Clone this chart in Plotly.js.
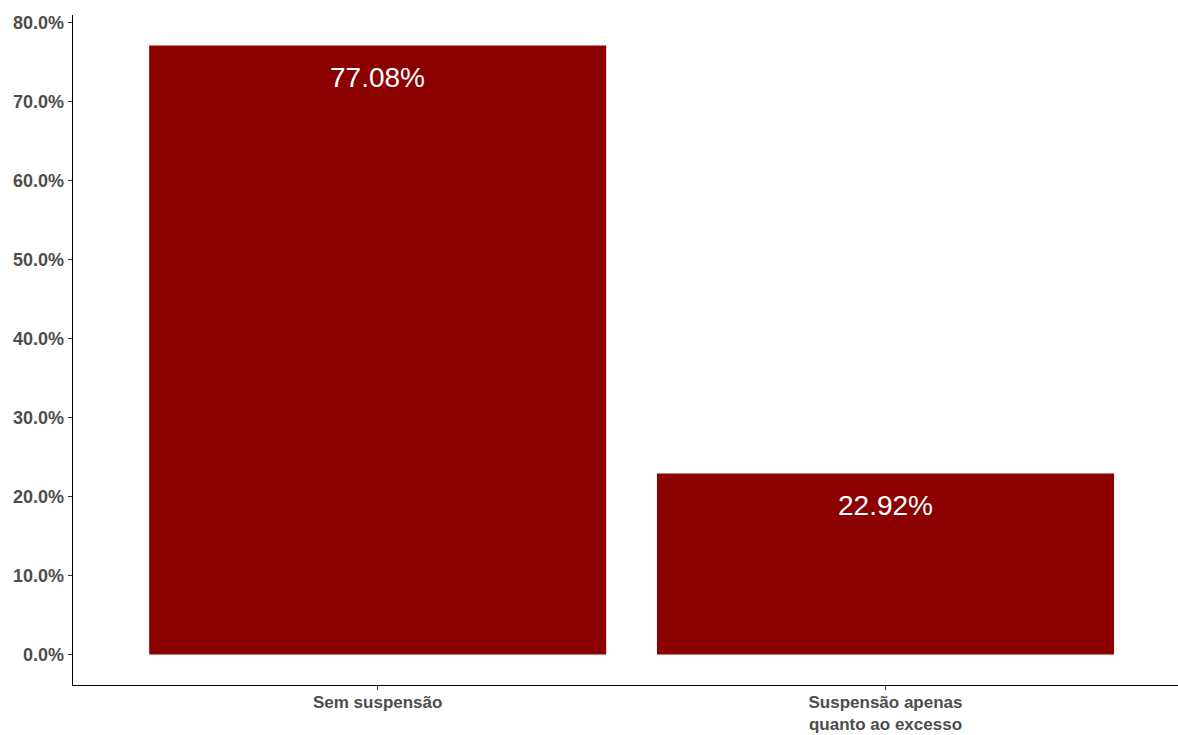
<!DOCTYPE html>
<html>
<head>
<meta charset="utf-8">
<script src="https://cdn.plot.ly/plotly-3.0.1.min.js"></script>
<style>html,body{margin:0;padding:0;background:#fff;}#chart{width:1178px;height:735px;}</style>
</head>
<body>
<div id="chart"></div>
<script>
const categories = ["Sem suspensão", "Suspensão apenas<br>quanto ao excesso"];
const values = [77.08, 22.92];
const labels = ["77.08%", "22.92%"];
const yTicks = [0, 10, 20, 30, 40, 50, 60, 70, 80];
const yTickText = ["0.0%", "10.0%", "20.0%", "30.0%", "40.0%", "50.0%", "60.0%", "70.0%", "80.0%"];

const trace = {
  type: "bar",
  x: categories,
  y: values,
  width: 0.9,
  marker: {color: "#8B0000"},
  hoverinfo: "none"
};

const annotations = categories.map((c, i) => ({
  x: c, y: values[i], xref: "x", yref: "y",
  text: labels[i], showarrow: false,
  yanchor: "middle", yshift: -32,
  font: {family: "Liberation Sans, Arial, sans-serif", size: 28, color: "#ffffff"}
}));

const tickFontY = {family: "Liberation Sans, Arial, sans-serif", size: 18, color: "#4d4d4d", weight: "bold"};
const tickFontX = {family: "Liberation Sans, Arial, sans-serif", size: 17, color: "#4d4d4d", weight: "bold"};

const layout = {
  width: 1178, height: 735,
  margin: {l: 73, r: 0, t: 15, b: 50},
  paper_bgcolor: "#ffffff", plot_bgcolor: "#ffffff",
  showlegend: false,
  xaxis: {
    type: "category",
    range: [-0.6, 1.576],
    showgrid: false, zeroline: false,
    showline: true, linecolor: "#000000", linewidth: 1.3,
    ticks: "outside", ticklen: 4, tickcolor: "#333333", tickwidth: 1,
    ticklabelstandoff: -3,
    tickfont: tickFontX
  },
  yaxis: {
    range: [-3.854, 80.93],
    tickvals: yTicks, ticktext: yTickText,
    showgrid: false, zeroline: false,
    showline: true, linecolor: "#000000", linewidth: 1.3,
    ticks: "outside", ticklen: 4, tickcolor: "#333333", tickwidth: 1,
    tickfont: tickFontY
  },
  annotations: annotations
};

Plotly.newPlot("chart", [trace], layout, {displayModeBar: false, staticPlot: true});
</script>
</body>
</html>
